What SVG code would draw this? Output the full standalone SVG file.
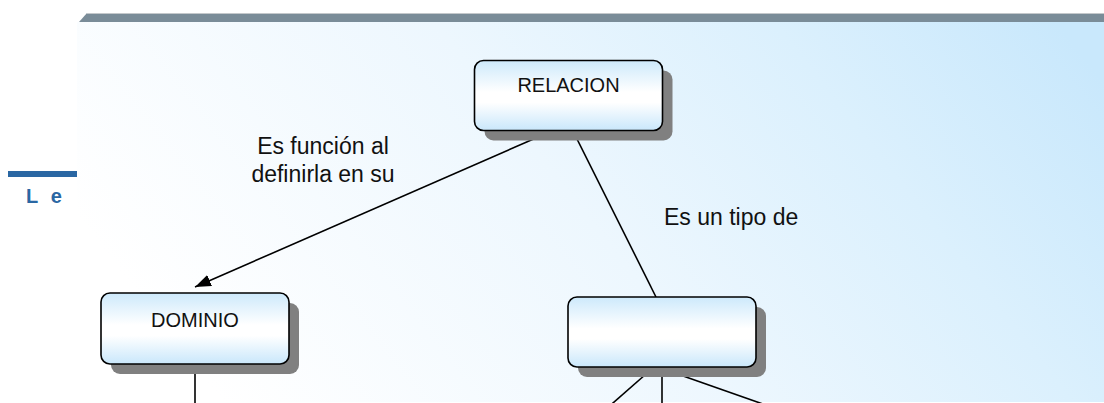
<svg xmlns="http://www.w3.org/2000/svg" width="1104" height="403" viewBox="0 0 1104 403">
  <defs>
    <linearGradient id="bg" gradientUnits="userSpaceOnUse" x1="300" y1="500" x2="1000" y2="-50">
      <stop offset="0" stop-color="#ffffff"/>
      <stop offset="0.45" stop-color="#edf7fe"/>
      <stop offset="0.75" stop-color="#dbf0fd"/>
      <stop offset="1" stop-color="#c9e8fc"/>
    </linearGradient>
    <linearGradient id="nodefill" x1="0" y1="0" x2="0" y2="1">
      <stop offset="0" stop-color="#cde9fb"/>
      <stop offset="0.45" stop-color="#ffffff"/>
      <stop offset="0.6" stop-color="#ffffff"/>
      <stop offset="1" stop-color="#c9e7fb"/>
    </linearGradient>
    <marker id="arrow" markerUnits="userSpaceOnUse" markerWidth="18" markerHeight="14" refX="16" refY="6" orient="auto">
      <path d="M0,0 L16,6 L0,12 Z" fill="#000"/>
    </marker>
  </defs>
  <style>
    .shadow { fill: #808080; }
    .box { fill: url(#nodefill); stroke: #000; stroke-width: 1.6; }
    .ntext { font-family: "Liberation Sans", Arial, sans-serif; font-size: 20px; fill: #111; text-anchor: middle; }
    .ltext { font-family: "Liberation Sans", Arial, sans-serif; font-size: 23px; fill: #111; }
    .conn line { stroke: #000; stroke-width: 1.6; }
  </style>

  <!-- background panel -->
  <g id="background">
    <rect x="77" y="22" width="1027" height="380" fill="url(#bg)"/>
    <polygon points="79,22 87,13 1104,13 1104,22" fill="#7a8c98"/>
    <line x1="87" y1="13.5" x2="1104" y2="13.5" stroke="#c4c8cb" stroke-width="1"/>
    <rect x="8" y="171" width="69" height="6" fill="#2a67a3"/>
    <text x="26" y="203" font-family="'Liberation Sans', Arial, sans-serif" font-size="20" font-weight="bold" fill="#2a67a3" letter-spacing="3.7">L e</text>
  </g>

  <!-- connectors -->
  <g id="connectors" class="conn">
    <line x1="552" y1="131" x2="195" y2="287" marker-end="url(#arrow)"/>
    <line x1="573" y1="131" x2="656" y2="297"/>
    <line x1="195" y1="364" x2="195" y2="410"/>
    <line x1="654" y1="367" x2="605" y2="410"/>
    <line x1="662" y1="367" x2="662" y2="410"/>
    <line x1="657.5" y1="367" x2="780" y2="410"/>
  </g>

  <!-- connector labels -->
  <g id="labels">
    <text class="ltext" x="323" y="154" text-anchor="middle">Es función al</text>
    <text class="ltext" x="323" y="182" text-anchor="middle">definirla en su</text>
    <text class="ltext" x="664" y="225">Es un tipo de</text>
  </g>

  <!-- nodes -->
  <g id="node-relacion">
    <rect class="shadow" x="484.5" y="70.5" width="188" height="70" rx="9"/>
    <rect class="box" x="474.5" y="60.5" width="188" height="70" rx="9"/>
    <text class="ntext" x="568.5" y="92">RELACION</text>
  </g>
  <g id="node-dominio">
    <rect class="shadow" x="111" y="303" width="188" height="71" rx="9"/>
    <rect class="box" x="101" y="293" width="188" height="71" rx="9"/>
    <text class="ntext" x="195" y="327">DOMINIO</text>
  </g>
  <g id="node-empty">
    <rect class="shadow" x="578" y="307" width="188" height="70" rx="9"/>
    <rect class="box" x="568" y="297" width="188" height="70" rx="9"/>
  </g>
</svg>
